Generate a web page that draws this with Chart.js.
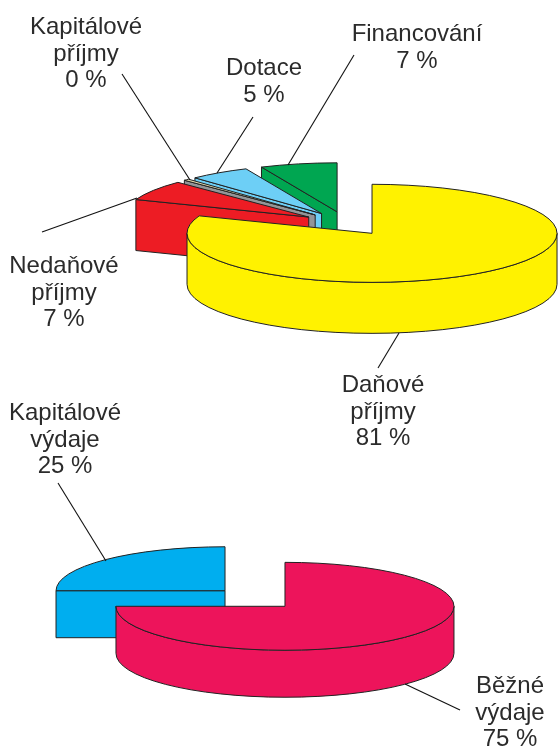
<!DOCTYPE html>
<html>
<head>
<meta charset="utf-8">
<script src="https://cdn.jsdelivr.net/npm/chart.js@4"></script>
<style>
  html, body { margin: 0; background: #fff; }
  canvas { position: absolute; left: 0; top: 0; }
</style>
</head>
<body>
<canvas id="income" width="558" height="749"></canvas>
<canvas id="spending" width="558" height="749"></canvas>
<script>
// slices run clockwise from the first one, sizes
const incomeNames = ['Nedaňové příjmy', 'Kapitálové příjmy', 'Dotace', 'Financování', 'Daňové příjmy'];
const incomeValues = [6.7, 0.5, 5.3, 6.7, 80.8];
const incomeTexts = ['7 %', '0 %', '5 %', '7 %', '81 %'];
const incomeColors = ['#ED1C24', '#E6DFB0', '#6DCFF6', '#00A651', '#FFF200'];
const incomeWalls = ['#ED1C24', '#939598', '#6DCFF6', '#00A651', '#FFF200'];

const spendingNames = ['Kapitálové výdaje', 'Běžné výdaje'];
const spendingValues = [25, 75];
const spendingTexts = ['25 %', '75 %'];
const spendingColors = ['#00AEEF', '#ED145B'];

// label centre x, first baseline y, leader line x1, y1, x2, y2
const incomeCallouts = [
  [64, 273, 42, 232, 137, 198],
  [86, 34, 122, 74, 190, 180],
  [264, 75, 253, 117, 217, 173],
  [417, 41, 354, 55, 288, 165],
  [383, 392, 378, 368, 399, 333]
];
const spendingCallouts = [
  [65, 420, 58, 483, 106, 561],
  [510, 693, 460, 710, 405, 684]
];

const LINE = '#222';
const TEXT = '#2b2b2b';

// fake 3d: squash the pie, pull the slices apart and give them a wall
const pie3d = {
  id: 'pie3d',
  beforeDatasetDraw(chart, args, opts) {
    const ctx = chart.ctx;
    const { squash, explode, depth, radius, walls } = opts;
    const ry = radius * squash;
    const apexY = arc => arc.y + Math.sin((arc.startAngle + arc.endAngle) / 2) * explode * squash;
    const arcs = chart.getDatasetMeta(args.index).data;

    // back to front, whatever apex sits higher on the page goes first
    arcs.slice().sort((p, q) => apexY(p) - apexY(q)).forEach(arc => {
      const mid = (arc.startAngle + arc.endAngle) / 2;
      const px = arc.x + Math.cos(mid) * explode;
      const py = apexY(arc);
      const sx = px + Math.cos(arc.startAngle) * radius;
      const sy = py + Math.sin(arc.startAngle) * ry;

      ctx.save();
      ctx.lineWidth = 1;
      ctx.strokeStyle = LINE;
      ctx.fillStyle = walls ? walls[arcs.indexOf(arc)] : arc.options.backgroundColor;
      ctx.lineJoin = 'round';

      // cut face on the opening side, narrow slices only
      if (arc.endAngle - arc.startAngle < Math.PI) {
        ctx.beginPath();
        ctx.moveTo(px, py);
        ctx.lineTo(sx, sy);
        ctx.lineTo(sx, sy + depth);
        ctx.lineTo(px, py + depth);
        ctx.closePath();
        ctx.fill();
        ctx.stroke();
      }

      // rim wall, the part of the arc that lies in the lower half
      const turns = Math.ceil((arc.startAngle) / (2 * Math.PI));
      const a = Math.max(arc.startAngle, turns * 2 * Math.PI);
      const b = Math.min(arc.endAngle, turns * 2 * Math.PI + Math.PI);
      if (b > a) {
        ctx.beginPath();
        ctx.ellipse(px, py, radius, ry, 0, a, b);
        ctx.ellipse(px, py + depth, radius, ry, 0, b, a, true);
        ctx.closePath();
        ctx.fill();
        ctx.stroke();
      }

      // top face goes through the library's own arc drawing
      ctx.save();
      ctx.translate(arc.x, arc.y);
      ctx.scale(1, squash);
      ctx.translate(Math.cos(mid) * explode, Math.sin(mid) * explode);
      ctx.translate(-arc.x, -arc.y);
      arc.draw(ctx);
      ctx.restore();

      ctx.beginPath();
      ctx.moveTo(px, py);
      ctx.ellipse(px, py, radius, ry, 0, arc.startAngle, arc.endAngle);
      ctx.closePath();
      ctx.stroke();
      ctx.restore();
    });
    return false;
  },
  afterDraw(chart, args, opts) {
    const ctx = chart.ctx;
    ctx.save();
    ctx.font = '24px "Liberation Sans"';
    ctx.textAlign = 'center';
    ctx.textBaseline = 'alphabetic';
    opts.callouts.forEach((c, i) => {
      ctx.strokeStyle = '#111';
      ctx.lineWidth = 1.1;
      ctx.beginPath();
      ctx.moveTo(c[2], c[3]);
      ctx.lineTo(c[4], c[5]);
      ctx.stroke();
      ctx.fillStyle = TEXT;
      const lines = chart.data.labels[i].split(' ').concat(opts.texts[i]);
      lines.forEach((l, n) => ctx.fillText(l, c[0], c[1] + n * 26.5));
    });
    ctx.restore();
  }
};

function makePie(id, names, values, colors, rotation, padding, radius, pie3dOpts) {
  return new Chart(document.getElementById(id), {
    type: 'pie',
    data: {
      labels: names,
      datasets: [{ data: values, backgroundColor: colors, borderWidth: 0, radius: radius }]
    },
    options: {
      responsive: false,
      animation: false,
      rotation: rotation,
      layout: { padding: padding },
      plugins: {
        legend: { display: false },
        tooltip: { enabled: false },
        pie3d: Object.assign({ radius: radius }, pie3dOpts)
      }
    },
    plugins: [pie3d]
  });
}

const incomeTotal = incomeValues.reduce((s, v) => s + v, 0);
// the big slice starts at 12 o'clock, so the others fill the arc before it
const incomeRotation = 360 * (1 - incomeValues[4] / incomeTotal) * -1;

makePie('income', incomeNames, incomeValues, incomeColors, incomeRotation,
  { left: 135, right: 0, top: 0, bottom: 302 }, 185,
  { squash: 0.265, explode: 45, depth: 51, callouts: incomeCallouts, texts: incomeTexts, walls: incomeWalls });

makePie('spending', spendingNames, spendingValues, spendingColors, -90,
  { left: 0, right: 48, top: 448, bottom: 0 }, 169,
  { squash: 0.26, explode: 42.4, depth: 47, callouts: spendingCallouts, texts: spendingTexts });
</script>
</body>
</html>
